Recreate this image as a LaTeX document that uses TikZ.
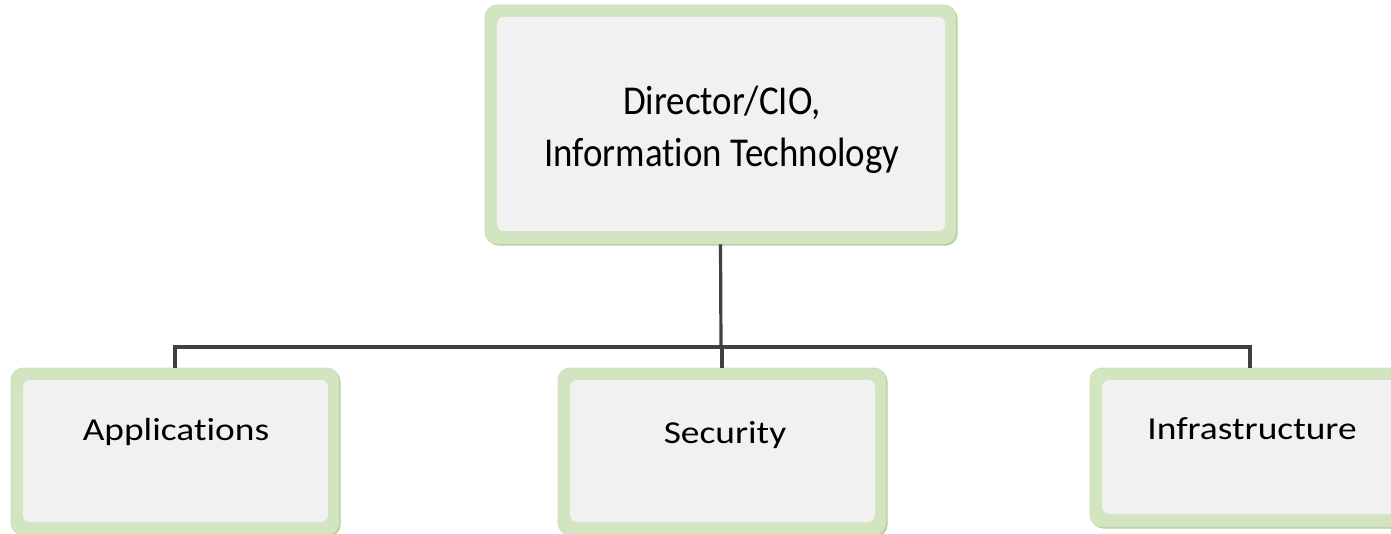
\documentclass[tikz,border=0pt]{standalone}
\usepackage{fontspec}
\setmainfont{Carlito}[Ligatures=NoCommon]
\newfontfamily\topfont{Carlito}[FakeStretch=0.9, Ligatures=NoCommon]
\newfontfamily\lowfont{Carlito}[FakeStretch=1.17, Ligatures=NoCommon]
\usetikzlibrary{shadows}
\definecolor{rimgreen}{HTML}{D3E4C1}
\definecolor{edgegreen}{HTML}{A8CC88}
\definecolor{panel}{HTML}{F1F1F1}
\definecolor{wirecol}{HTML}{404040}
\tikzset{
  orgbox/.style={rectangle, rounded corners=12pt, fill=rimgreen, draw=rimgreen!85!edgegreen,
    line width=0.8pt, inner sep=0pt,
    drop shadow={shadow xshift=1.6pt, shadow yshift=-1.6pt, fill=edgegreen, opacity=0.9},
    path picture={\fill[panel, rounded corners=7pt]
      ([shift={(12pt,-12pt)}]path picture bounding box.north west) rectangle
      ([shift={(-11pt,13pt)}]path picture bounding box.south east);}},
  toptext/.style={font=\topfont\fontsize{41}{52}\selectfont, inner sep=0pt, align=center, text=black},
  boxtext/.style={font=\lowfont\fontsize{32}{38}\selectfont, inner sep=0pt, anchor=base, text=black},
  wire/.style={draw=wirecol, line width=3.2pt}
}
\begin{document}
\begin{tikzpicture}[x=1pt,y=-1pt]
\useasboundingbox (0,0) rectangle (1391,534);
\fill[white] (0,0) rectangle (1391,534);
% boxes
\node[orgbox, minimum width=471pt, minimum height=239pt] (cio) at (720.5,124.5) {};
\node[orgbox, minimum width=328pt, minimum height=167pt] (app) at (175,451.5) {};
\node[orgbox, minimum width=328pt, minimum height=167pt] (sec) at (722,451.5) {};
\node[orgbox, minimum width=320pt, minimum height=159pt] (inf) at (1250,447.5) {};
% texts
\node[toptext] (ciot) at (722,130) {Director/CIO,\\Information Technology};
\node[boxtext] (appt) at (176,440) {Applications};
\node[boxtext] (sect) at (725,443) {Security};
\node[boxtext] (inft) at (1252,439) {Infrastructure};
% connectors
\coordinate (bus) at (721,347);
\draw[wire] (cio.south) -- (bus);
\draw[wire] (bus) -| (app.north);
\draw[wire] (bus) -| (sec.north);
\draw[wire] (bus) -| (inf.north);
\end{tikzpicture}
\end{document}
